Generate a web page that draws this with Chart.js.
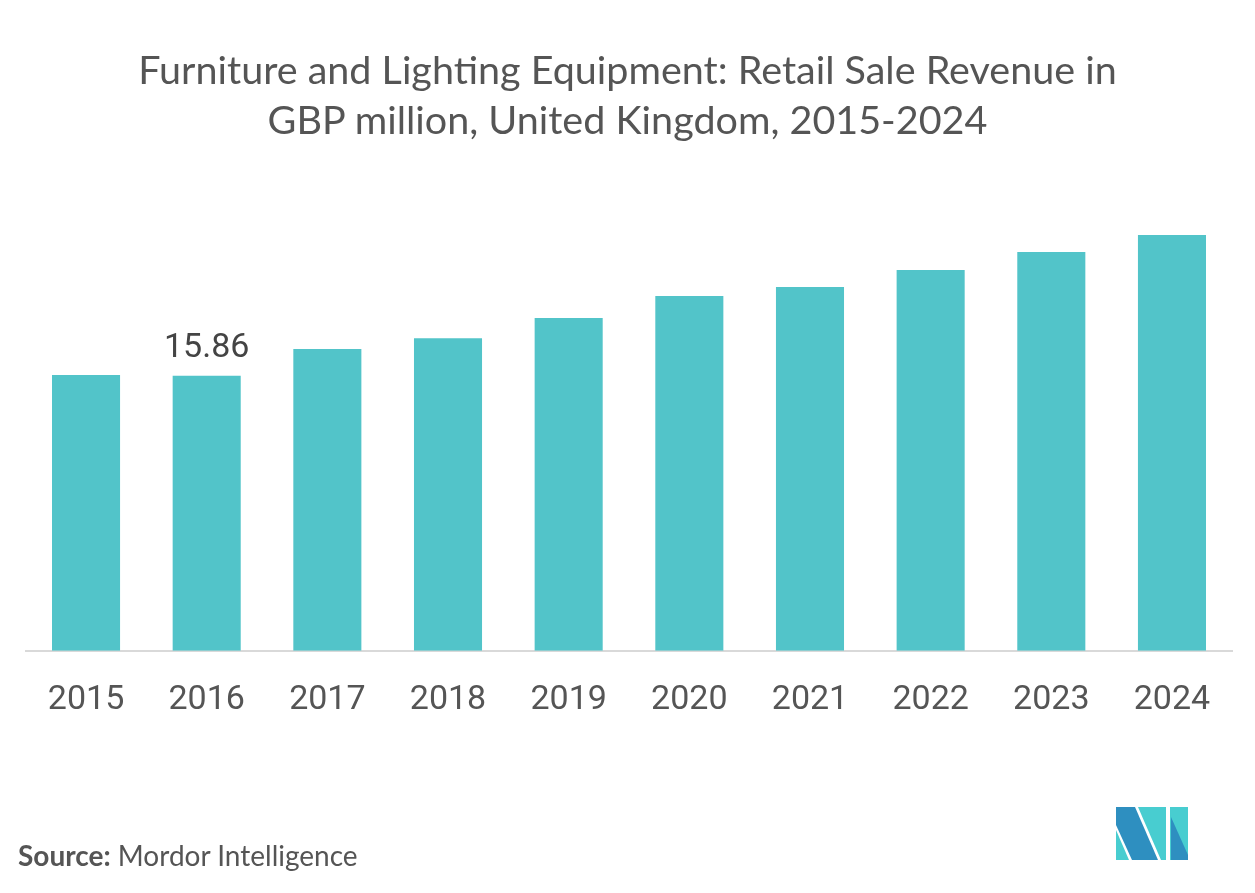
<!DOCTYPE html>
<html>
<head>
<meta charset="utf-8">
<script src="https://cdn.jsdelivr.net/npm/chart.js@4"></script>
<style>
  body { margin: 0; background: #fff; }
  #wrap { position: relative; width: 1255px; height: 893px; }
  #title {
    position: absolute; left: 0; top: 44px; width: 1255px;
    text-align: center; font-family: Lato, sans-serif; font-size: 39.5px;
    line-height: 50px; color: #555;
  }
  #source {
    position: absolute; left: 18px; top: 838px;
    font-family: Lato, sans-serif; font-size: 28px; color: #555;
  }
  #logo { position: absolute; left: 1116px; top: 807px; }
  canvas { position: absolute; left: 0; top: 0; }
</style>
</head>
<body>
<div id="wrap">
  <canvas id="chart" width="1255" height="893"></canvas>
  <div id="title">Furniture and Lighting Equipment: Retail Sale Revenue in<br>GBP million, United Kingdom, 2015-2024</div>
  <div id="source"><b>Source:</b> Mordor Intelligence</div>
  <svg id="logo" width="72" height="53" viewBox="0 0 72 53">
    <polygon points="0,0 19,0 42,53 16,53 0,18" fill="#2e8fc0"/>
    <polygon points="0,23 0,53 13,53" fill="#48cdd0"/>
    <polygon points="22,0 50,0 50,53 45,53" fill="#48cdd0"/>
    <polygon points="54,0 72,0 72,53 54,53" fill="#48cdd0"/>
    <polygon points="55,10 72,48 72,53 55,53" fill="#2e8fc0"/>
  </svg>
</div>
<script>
// 연도별 매출 (GBP million, 그림에서 읽은 값)
const years = ["2015", "2016", "2017", "2018", "2019", "2020", "2021", "2022", "2023", "2024"];
const revenue = [15.9, 15.86, 17.4, 18.03, 19.19, 20.46, 20.98, 21.96, 23.0, 23.98];
const labelIndex = 1; // 값 표시는 2016만

// 막대 위에 값 하나 그리기
const valueLabel = {
  id: "valueLabel",
  afterDatasetsDraw(chart) {
    const bar = chart.getDatasetMeta(0).data[labelIndex];
    const ctx = chart.ctx;
    ctx.save();
    ctx.font = "34px Roboto";
    ctx.fillStyle = "#444";
    ctx.textAlign = "center";
    ctx.textBaseline = "alphabetic";
    ctx.fillText(revenue[labelIndex].toFixed(2), bar.x, bar.y - 19);
    ctx.restore();
  },
};

const ctx = document.getElementById("chart").getContext("2d");

new Chart(ctx, {
  type: "bar",
  data: {
    labels: years,
    datasets: [
      {
        label: "revenue",
        data: revenue,
        backgroundColor: "#52c4c9",
        categoryPercentage: 1,
        barPercentage: 0.564,
      },
    ],
  },
  options: {
    responsive: false,
    animation: false,
    layout: {
      padding: { top: 200, bottom: 150.5, left: 25.7, right: 22.7 },
    },
    plugins: {
      legend: { display: false },
      tooltip: { enabled: false },
    },
    scales: {
      y: {
        display: false,
        min: 0,
        max: 26,
      },
      x: {
        grid: { display: false },
        border: { display: true, color: "#d9d9d9", width: 2 },
        ticks: {
          padding: 21.5,
          color: "#555",
          font: { family: "Roboto", size: 34 },
        },
      },
    },
  },
  plugins: [valueLabel],
});
</script>
</body>
</html>
